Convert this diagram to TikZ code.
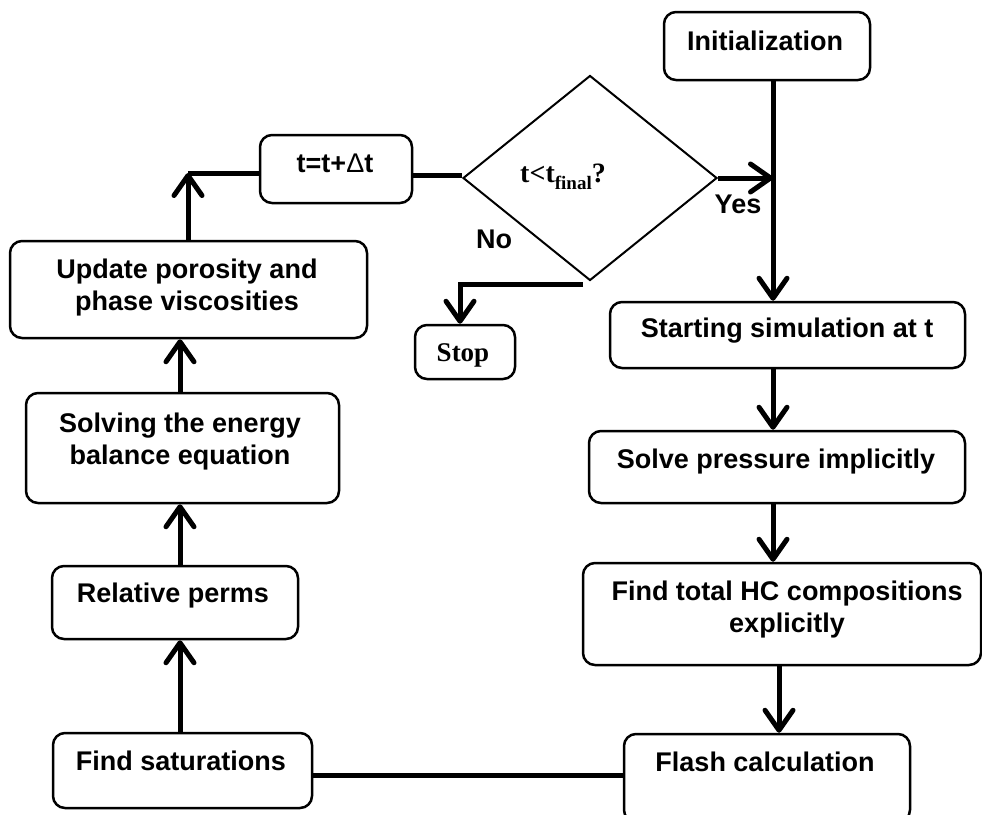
\documentclass[tikz,border=0pt]{standalone}
\usepackage{fontspec}
\setmainfont{Liberation Sans}
\newfontfamily\serifface{Liberation Serif}
\usetikzlibrary{shapes.geometric,arrows.meta}

% two centred lines whose baseline is the first line's baseline
\newcommand\twolines[2]{\begin{tabular}[t]{@{}c@{}}#1\\#2\end{tabular}}

\tikzset{
  box/.style={draw, line width=2.5pt, rounded corners=12pt, fill=white, inner sep=0pt},
  lbl/.style={font=\fontsize{27}{32}\selectfont\bfseries, inner sep=0pt, anchor=base},
  serlbl/.style={font=\serifface\bfseries\fontsize{27}{32}\selectfont, inner sep=0pt, anchor=base},
  link/.style={line width=5pt},
  flow/.style={link, -{Straight Barb[length=20pt,width=28pt,round]}},
}

\begin{document}
\begin{tikzpicture}[x=1pt,y=-1pt]
\clip (0,0) rectangle (982,814);

% process boxes
\node[box, minimum width=206pt, minimum height=68pt]  (init)    at (767,46)    {};
\node[box, minimum width=355pt, minimum height=66pt]  (start)   at (787.5,335) {};
\node[box, minimum width=376pt, minimum height=72pt]  (solve)   at (777,467)   {};
\node[box, minimum width=398pt, minimum height=102pt] (findhc)  at (782,614)   {};
\node[box, minimum width=286pt, minimum height=88pt]  (flash)   at (767,778)   {};
\node[box, minimum width=259pt, minimum height=75pt]  (findsat) at (182.5,770.5) {};
\node[box, minimum width=246pt, minimum height=73pt]  (relperm) at (175,602.5) {};
\node[box, minimum width=313pt, minimum height=110pt] (energy)  at (182.5,448) {};
\node[box, minimum width=357pt, minimum height=97pt]  (update)  at (188.5,289.5) {};
\node[box, minimum width=152pt, minimum height=68pt]  (tbox)    at (336,169)   {};
\node[box, minimum width=100pt, minimum height=54pt]  (stop)    at (465,352)   {};

% decision
\node[draw, diamond, line width=2pt, minimum width=254pt, minimum height=205pt, inner sep=0pt] (dec) at (590,178) {};

% box texts
\node[lbl] (init-t)    at (765,50)  {Initialization};
\node[lbl] (start-t)   at (787,337) {Starting simulation at t};
\node[lbl] (solve-t)   at (776,468) {Solve pressure implicitly};
\node[lbl] (findhc-t)  at (787,600) {\twolines{Find total HC compositions}{explicitly}};
\node[lbl] (flash-t)   at (765,771) {Flash calculation};
\node[lbl] (findsat-t) at (181,770) {Find saturations};
\node[lbl] (relperm-t) at (173,602) {Relative perms};
\node[lbl] (energy-t)  at (180,432) {\twolines{Solving the energy}{balance equation}};
\node[lbl] (update-t)  at (187,278) {\twolines{Update porosity and}{phase viscosities}};
\node[lbl] (tbox-t)    at (335,172) {t=t+{\mdseries Δ}t};
\node[serlbl] (stop-t) at (463,361) {Stop};
\node[serlbl, font=\serifface\bfseries\fontsize{28}{32}\selectfont] (dec-t) at (563,182)
  {t<t\raisebox{-7pt}{\fontsize{19}{20}\selectfont final}?};
\node[lbl] (yes) at (738,213) {Yes};
\node[lbl] (no)  at (494,248) {No};

% guide coordinates for the vertical runs
\coordinate (spine)  at (773,0);
\coordinate (spine2) at (779,0);
\coordinate (lspine) at (180,0);
\coordinate (turn)   at (188,173);

% right-hand column
\draw[flow] (init.south -| spine) -- (start.north -| spine);
\draw[flow] (dec.east) -- (dec.east -| spine);
\draw[flow] (start.south -| spine) -- (solve.north -| spine);
\draw[flow] (solve.south -| spine) -- (findhc.north -| spine);
\draw[flow] (findhc.south -| spine2) -- (flash.north -| spine2);

% bottom link
\draw[link] ([yshift=3pt]flash.west) -- ([yshift=3pt]flash.west -| findsat.east);

% left-hand column
\draw[flow] (findsat.north -| lspine) -- (relperm.south -| lspine);
\draw[flow] (relperm.north -| lspine) -- (energy.south -| lspine);
\draw[flow] (energy.north -| lspine) -- (update.south -| lspine);
\draw[flow] (update.north -| turn) -- (turn);
\draw[link] (turn) -- (turn -| tbox.west);
\draw[link] ([yshift=-6pt]tbox.east) -- ([yshift=-6pt]tbox.east -| dec.west);

% exit branch
\draw[flow] ([shift={(-7pt,-3pt)}]dec.south) -| ([xshift=-5pt]stop.north);
\end{tikzpicture}
\end{document}
